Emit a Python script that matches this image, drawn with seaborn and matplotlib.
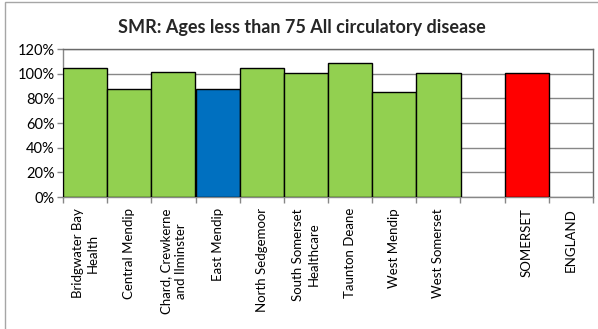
import numpy as np
import pandas as pd
import matplotlib
matplotlib.use('Agg')
import matplotlib.pyplot as plt
import seaborn as sns
from matplotlib.ticker import PercentFormatter, FixedLocator
from matplotlib.patches import Rectangle

# data
practices = ['Bridgwater Bay\nHealth', 'Central Mendip', 'Chard, Crewkerne\nand Ilminster',
             'East Mendip', 'North Sedgemoor', 'South Somerset\nHealthcare', 'Taunton Deane',
             'West Mendip', 'West Somerset', ' ', 'SOMERSET', 'ENGLAND']
smr = [104.9, 87.3, 101.0, 87.8, 104.6, 100.4, 108.4, 84.9, 100.8, np.nan, 100.3, np.nan]
bar_colors = ['#92D050'] * 3 + ['#0070C0'] + ['#92D050'] * 5 + ['#FFFFFF', '#FF0000', '#FFFFFF']

df = pd.DataFrame({'practice': practices, 'smr': smr})

sns.set_theme(style='white')
plt.rcParams['font.family'] = ['Lato', 'DejaVu Sans']

fig = plt.figure(figsize=(5.98, 3.29), dpi=100)
ax = fig.add_axes([63 / 598, 1 - 197 / 329, 530 / 598, 148 / 329])

sns.barplot(data=df, x='practice', y='smr', hue='practice', palette=bar_colors,
            saturation=1, width=1.0, edgecolor='black', linewidth=1.0,
            legend=False, ax=ax, zorder=3)

ax.set_ylim(0, 120)
ax.set_xlim(-0.5, len(practices) - 0.5)
ax.yaxis.set_major_locator(FixedLocator(np.arange(0, 121, 20)))
ax.yaxis.set_major_formatter(PercentFormatter(decimals=0))
ax.grid(axis='y', color='#878787', linewidth=1.0, zorder=0)
ax.set_axisbelow(True)

ax.set_xlabel('')
ax.set_ylabel('')
ax.tick_params(axis='x', which='major', length=0, labelsize=9.5, pad=8,
               labelrotation=90, colors='black')
ax.tick_params(axis='y', which='major', length=4, width=1, color='#878787',
               labelsize=10.5, pad=2, left=True, labelcolor='black')
ax.set_xticks(np.arange(-0.5, len(practices), 1.0), minor=True)
ax.tick_params(axis='x', which='minor', length=4, width=1, color='#878787', bottom=True)
for lbl in ax.get_xticklabels():
    lbl.set_verticalalignment('top')
    lbl.set_multialignment('center')
    lbl.set_linespacing(1.3)

for side in ['top', 'right', 'left', 'bottom']:
    ax.spines[side].set_visible(True)
    ax.spines[side].set_color('#878787')
    ax.spines[side].set_linewidth(1.0)
ax.spines['top'].set_color('#6a6a6a')
ax.spines['right'].set_color('#6a6a6a')

fig.text(0.505, 1 - 28 / 329, 'SMR: Ages less than 75 All circulatory disease',
         ha='center', va='center', fontsize=13, fontweight='bold')

# chart area border
fig.patches.append(Rectangle((5 / 598, -0.05), 1.1, 1.05 - 2.5 / 329,
                             transform=fig.transFigure, fill=False,
                             edgecolor='#a6a6a6', linewidth=1.0))

fig.savefig('out.png', dpi=100, facecolor='white')
